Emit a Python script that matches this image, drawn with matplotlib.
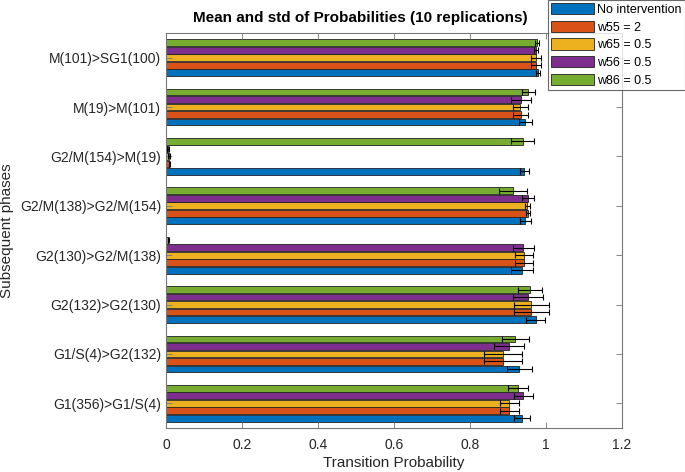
import numpy as np
import matplotlib
matplotlib.use("Agg")
import matplotlib.pyplot as plt

# categories bottom -> top (MATLAB barh order)
categories = ["G1(356)>G1/S(4)", "G1/S(4)>G2(132)", "G2(132)>G2(130)",
              "G2(130)>G2/M(138)", "G2/M(138)>G2/M(154)", "G2/M(154)>M(19)",
              "M(19)>M(101)", "M(101)>SG1(100)"]
series_names = ["No intervention", "w55 = 2", "w65 = 0.5", "w56 = 0.5", "w86 = 0.5"]

mean_none = [0.937, 0.930, 0.973, 0.937, 0.946, 0.943, 0.946, 0.979]
mean_w55  = [0.903, 0.886, 0.961, 0.943, 0.952, 0.009, 0.933, 0.974]
mean_w65  = [0.903, 0.886, 0.961, 0.943, 0.951, 0.008, 0.932, 0.974]
mean_w56  = [0.940, 0.903, 0.953, 0.940, 0.953, 0.006, 0.934, 0.974]
mean_w86  = [0.927, 0.919, 0.958, 0.006, 0.914, 0.939, 0.953, 0.977]

std_none = [0.021, 0.033, 0.025, 0.030, 0.015, 0.012, 0.017, 0.006]
std_w55  = [0.025, 0.050, 0.046, 0.024, 0.005, 0.002, 0.020, 0.014]
std_w65  = [0.025, 0.050, 0.046, 0.024, 0.006, 0.002, 0.020, 0.014]
std_w56  = [0.025, 0.040, 0.039, 0.028, 0.015, 0.003, 0.026, 0.006]
std_w86  = [0.026, 0.035, 0.032, 0.002, 0.037, 0.030, 0.017, 0.005]

colors = ["#0072BD", "#D95319", "#EDB120", "#7E2F8E", "#77AC30"]

means = [mean_none, mean_w55, mean_w65, mean_w56, mean_w86]
stds = [std_none, std_w55, std_w65, std_w56, std_w86]

plt.rcParams['font.family'] = ['Liberation Sans', 'DejaVu Sans']

fig = plt.figure(figsize=(6.85, 4.72), dpi=100)
ax = fig.add_axes([166/685, 1 - 428/472, (622 - 166)/685, (428 - 33)/472])

y = np.arange(1, len(categories) + 1)
step = 0.152
h = 0.138
handles = []
for i, (m, s, c, name) in enumerate(zip(means, stds, colors, series_names)):
    yy = y + (i - 2) * step
    b = ax.barh(yy, m, height=h, color=c, edgecolor='#222222', linewidth=0.6, label=name)
    handles.append(b)
    ax.errorbar(m, yy, xerr=s, fmt='none', ecolor='black', elinewidth=0.8,
                capsize=2.5, capthick=0.8)

ax.set_xlim(0, 1.2)
ax.set_ylim(0.5, 8.5)
ax.set_xticks([0, 0.2, 0.4, 0.6, 0.8, 1, 1.2])
ax.set_xticklabels(["0", "0.2", "0.4", "0.6", "0.8", "1", "1.2"])
ax.set_yticks(y)
ax.set_yticklabels(categories)
ax.tick_params(direction='in', length=4, width=0.6, colors='#777777', labelsize=10,
               top=True, right=True, labelcolor='#262626')
ax.tick_params(axis='x', pad=7)
for sp in ax.spines.values():
    sp.set_color('#777777')
    sp.set_linewidth(0.8)
ax.set_xlabel("Transition Probability", fontsize=11, color='#262626', labelpad=3)
ax.set_ylabel("Subsequent phases", fontsize=11, color='#262626')
fig.text(360/685, 1 - 18/472, "Mean and std of Probabilities (10 replications)",
         fontsize=11, fontweight='bold', color='#000000', ha='center', va='center')

leg = fig.legend(handles=handles, labels=series_names, loc='upper left',
                 bbox_to_anchor=(548/685, 1.0), frameon=True, fancybox=False,
                 edgecolor='#444444', fontsize=9, handlelength=3.4, handleheight=1.0,
                 labelspacing=0.38, handletextpad=0.3, borderpad=0.25, borderaxespad=0.0)
leg.get_frame().set_linewidth(0.8)
leg.set_zorder(10)

fig.savefig("out.png", dpi=100)
